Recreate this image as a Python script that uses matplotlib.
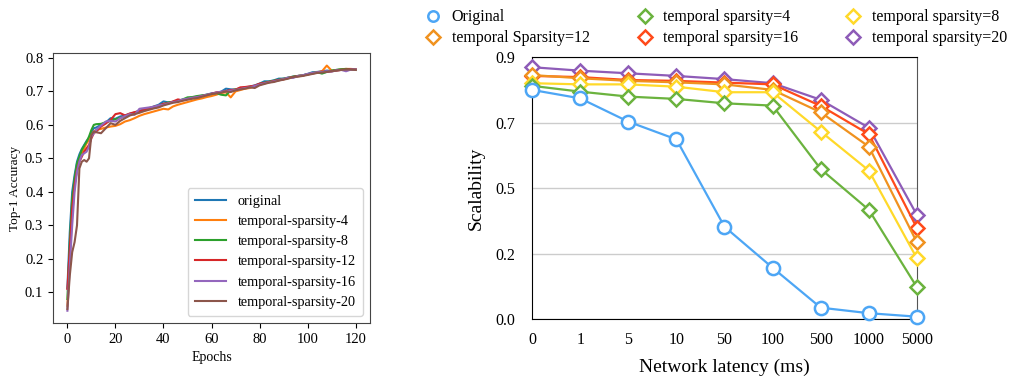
import matplotlib
matplotlib.use("Agg")
import matplotlib.pyplot as plt
from matplotlib.lines import Line2D

plt.rcParams['font.family'] = ['Liberation Serif', 'DejaVu Serif']

# ---- left panel: training curves ----
epochs = list(range(13)) + list(range(14, 121, 2))

acc_original = [
    0.113, 0.280, 0.400, 0.450, 0.490, 0.512, 0.528, 0.540, 0.552, 0.560, 0.578, 0.590, 0.592,
    0.600, 0.607, 0.620, 0.618, 0.625, 0.628, 0.633, 0.637, 0.642, 0.646,
    0.650, 0.655, 0.660, 0.670, 0.667, 0.668, 0.672, 0.675, 0.678, 0.682,
    0.684, 0.687, 0.690, 0.694, 0.696, 0.699, 0.708, 0.706, 0.705, 0.709,
    0.712, 0.714, 0.718, 0.723, 0.730, 0.730, 0.733, 0.738, 0.738, 0.741,
    0.744, 0.746, 0.748, 0.752, 0.757, 0.758, 0.760, 0.762, 0.761, 0.764,
    0.765, 0.766, 0.766, 0.765]
acc_ts4 = [
    0.060, 0.200, 0.330, 0.420, 0.470, 0.500, 0.515, 0.530, 0.545, 0.555, 0.570, 0.580, 0.585,
    0.588, 0.592, 0.595, 0.597, 0.602, 0.610, 0.614, 0.620, 0.627, 0.632,
    0.636, 0.640, 0.644, 0.648, 0.646, 0.655, 0.660, 0.664, 0.668, 0.672,
    0.676, 0.679, 0.683, 0.686, 0.690, 0.695, 0.697, 0.682, 0.700, 0.704,
    0.708, 0.710, 0.715, 0.720, 0.724, 0.727, 0.730, 0.733, 0.736, 0.740,
    0.742, 0.746, 0.748, 0.750, 0.754, 0.757, 0.760, 0.777, 0.762, 0.763,
    0.766, 0.767, 0.767, 0.766]
acc_ts8 = [
    0.080, 0.250, 0.380, 0.440, 0.485, 0.505, 0.525, 0.538, 0.550, 0.565, 0.585, 0.600, 0.602,
    0.603, 0.608, 0.612, 0.617, 0.621, 0.626, 0.630, 0.635, 0.640, 0.645,
    0.648, 0.652, 0.657, 0.662, 0.667, 0.669, 0.671, 0.676, 0.682, 0.683,
    0.686, 0.688, 0.690, 0.692, 0.695, 0.690, 0.688, 0.703, 0.706, 0.709,
    0.711, 0.713, 0.716, 0.722, 0.726, 0.729, 0.732, 0.735, 0.738, 0.741,
    0.744, 0.746, 0.748, 0.751, 0.755, 0.757, 0.753, 0.758, 0.762, 0.764,
    0.766, 0.767, 0.766, 0.764]
acc_ts12 = [
    0.110, 0.230, 0.350, 0.420, 0.465, 0.490, 0.505, 0.520, 0.530, 0.540, 0.560, 0.575, 0.580,
    0.595, 0.604, 0.615, 0.632, 0.635, 0.628, 0.634, 0.638, 0.641, 0.645,
    0.649, 0.654, 0.657, 0.663, 0.664, 0.670, 0.676, 0.673, 0.677, 0.680,
    0.682, 0.686, 0.689, 0.693, 0.697, 0.698, 0.701, 0.704, 0.705, 0.712,
    0.713, 0.715, 0.717, 0.723, 0.725, 0.728, 0.731, 0.734, 0.736, 0.740,
    0.743, 0.745, 0.747, 0.751, 0.753, 0.756, 0.759, 0.758, 0.760, 0.762,
    0.764, 0.765, 0.766, 0.765]
acc_ts16 = [
    0.045, 0.180, 0.300, 0.400, 0.460, 0.490, 0.510, 0.515, 0.520, 0.535, 0.565, 0.575, 0.585,
    0.598, 0.610, 0.612, 0.610, 0.620, 0.626, 0.632, 0.630, 0.648, 0.650,
    0.652, 0.654, 0.658, 0.660, 0.664, 0.668, 0.670, 0.676, 0.678, 0.681,
    0.683, 0.686, 0.690, 0.693, 0.696, 0.699, 0.700, 0.702, 0.704, 0.707,
    0.710, 0.712, 0.716, 0.720, 0.724, 0.727, 0.730, 0.733, 0.737, 0.741,
    0.740, 0.746, 0.748, 0.752, 0.755, 0.757, 0.758, 0.760, 0.759, 0.763,
    0.764, 0.760, 0.765, 0.766]
acc_ts20 = [
    0.050, 0.150, 0.220, 0.250, 0.300, 0.470, 0.490, 0.495, 0.490, 0.500, 0.570, 0.580, 0.578,
    0.575, 0.590, 0.605, 0.600, 0.612, 0.620, 0.628, 0.632, 0.636, 0.641,
    0.645, 0.649, 0.652, 0.658, 0.662, 0.666, 0.668, 0.672, 0.675, 0.678,
    0.680, 0.684, 0.688, 0.692, 0.694, 0.696, 0.700, 0.698, 0.703, 0.706,
    0.708, 0.712, 0.710, 0.718, 0.722, 0.726, 0.728, 0.732, 0.735, 0.738,
    0.743, 0.744, 0.746, 0.749, 0.752, 0.755, 0.756, 0.758, 0.760, 0.762,
    0.764, 0.765, 0.765, 0.765]

left_labels = ['original', 'temporal-sparsity-4', 'temporal-sparsity-8',
               'temporal-sparsity-12', 'temporal-sparsity-16', 'temporal-sparsity-20']

# ---- right panel: scalability ----
latency_labels = ['0', '1', '5', '10', '50', '100', '500', '1000', '5000']
scal_original = [0.787, 0.758, 0.678, 0.617, 0.317, 0.176, 0.039, 0.020, 0.008]
scal_ts4 = [0.801, 0.781, 0.764, 0.756, 0.741, 0.733, 0.515, 0.375, 0.109]
scal_ts8 = [0.810, 0.806, 0.806, 0.798, 0.779, 0.779, 0.644, 0.510, 0.208]
scal_ts12 = [0.838, 0.827, 0.818, 0.813, 0.806, 0.787, 0.710, 0.592, 0.263]
scal_ts16 = [0.835, 0.831, 0.821, 0.818, 0.812, 0.806, 0.732, 0.635, 0.312]
scal_ts20 = [0.865, 0.853, 0.844, 0.835, 0.824, 0.810, 0.753, 0.657, 0.357]
ytick_labels = ['0.0', '0.2', '0.5', '0.7', '0.9']

fig = plt.figure(figsize=(10.13, 3.77), dpi=100)

# left
ax1 = fig.add_axes([0.0523, 0.1432, 0.3130, 0.7154])
for series, lab in zip([acc_original, acc_ts4, acc_ts8, acc_ts12, acc_ts16, acc_ts20], left_labels):
    ax1.plot(epochs, series, lw=1.5, label=lab)
ax1.set_xlabel('Epochs', fontsize=10, labelpad=4)
ax1.set_ylabel('Top-1 Accuracy', fontsize=9.5, labelpad=3)
ax1.tick_params(labelsize=10.5)
for sp in ax1.spines.values():
    sp.set_color('#444444')
ax1.legend(loc='lower right', fontsize=10.3, handlelength=2.2, borderpad=0.5,
           labelspacing=0.5, handletextpad=0.8)

# right
ax2 = fig.add_axes([0.5252, 0.1538, 0.3800, 0.6950])
x = list(range(len(latency_labels)))
right_series = [
    (scal_original, '#4DA6F5', 'o', 'Original'),
    (scal_ts4, '#6BB33E', 'D', 'temporal sparsity=4'),
    (scal_ts8, '#FFD92A', 'D', 'temporal sparsity=8'),
    (scal_ts12, '#F0921F', 'D', 'temporal Sparsity=12'),
    (scal_ts16, '#FF4A1A', 'D', 'temporal sparsity=16'),
    (scal_ts20, '#8E5CB8', 'D', 'temporal sparsity=20'),
]
draw_order = [5, 4, 3, 2, 1, 0]
for i in draw_order:
    vals, col, mk, lab = right_series[i]
    ms = 9.5 if mk == 'o' else 7
    ax2.plot(x, vals, color=col, lw=1.6, marker=mk, ms=ms, mfc='white',
             mec=col, mew=1.8, clip_on=False, zorder=3 + (6 - i))
ax2.set_xlim(0, 8)
ax2.set_ylim(0, 0.9)
ax2.set_xticks(x)
ax2.set_xticklabels(latency_labels)
ax2.set_yticks([0, 0.225, 0.45, 0.675, 0.9])
ax2.set_yticklabels(ytick_labels)
ax2.tick_params(length=0, labelsize=11.5)
ax2.tick_params(axis='x', pad=9)
ax2.tick_params(axis='y', pad=12)
ax2.grid(axis='y', color='#cccccc', lw=1)
ax2.set_axisbelow(True)
ax2.spines['right'].set_color('#555555')
ax2.set_xlabel('Network latency (ms)', fontsize=14, labelpad=8)
ax2.set_ylabel('Scalability', fontsize=14, labelpad=8)

# legend, filled column-wise so it reads row-wise like the original
leg_order = [0, 3, 1, 4, 2, 5]
handles = []
labels = []
for i in leg_order:
    vals, col, mk, lab = right_series[i]
    ms = 7.5 if mk == 'o' else 7
    handles.append(Line2D([], [], color=col, marker=mk, ms=ms, mfc='white',
                          mec=col, mew=1.8, linestyle='none'))
    labels.append(lab)
fig.legend(handles, labels, ncol=3, loc='upper left', bbox_to_anchor=(0.404, 1.013),
           frameon=False, fontsize=11.5, handletextpad=0.55, columnspacing=2.85,
           labelspacing=0.3, handlelength=1.2)

plt.savefig('out.png', dpi=100)
